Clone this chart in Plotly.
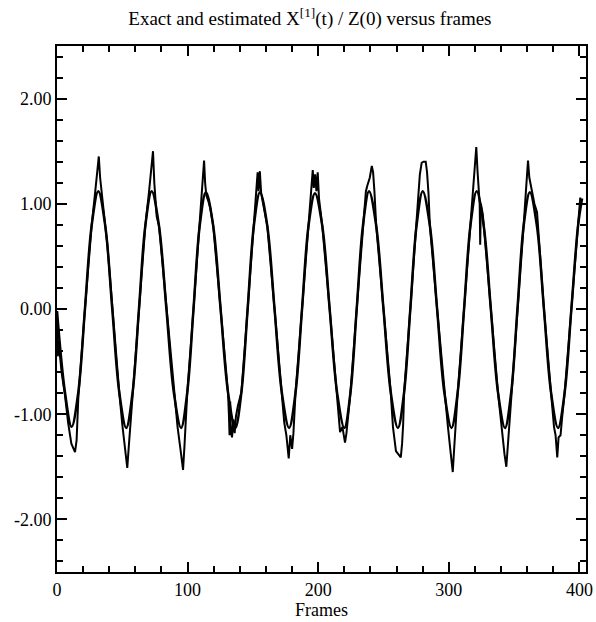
import plotly.graph_objects as go

# Exact X[1](t)/Z(0) (smooth curve)
exact_frames = [0, 6.1, 11.2, 16.3, 21.4, 26.5, 31.6, 36.95, 42.3, 47.65, 53.0, 57.9, 62.75, 67.6,
                72.5, 78.1, 83.75, 89.4, 95.0, 99.75, 104.5, 109.25, 114.0, 119.6, 125.25, 130.9,
                136.5, 141.2, 145.95, 150.7, 155.4, 161.0, 166.55, 172.1, 177.7, 182.65, 187.6,
                192.55, 197.5, 203.1, 208.75, 214.4, 220.0, 224.7, 229.45, 234.2, 238.9, 244.4,
                249.95, 255.5, 261.0, 265.75, 270.5, 275.25, 280.0, 285.5, 291.0, 296.5, 302.0,
                306.8, 311.65, 316.5, 321.3, 326.7, 332.15, 337.6, 343.0, 347.75, 352.5, 357.25,
                362.0, 367.4, 372.8, 378.2, 383.6, 388.7, 393.8, 398.9, 402.0]
exact_values = [-0.02, -0.79, -1.12, -0.79, 0.0, 0.79, 1.12, 0.79, 0.0, -0.79, -1.13, -0.79, 0.0, 0.79,
                1.12, 0.79, 0.0, -0.79, -1.13, -0.79, 0.0, 0.79, 1.11, 0.79, 0.0, -0.79,
                -1.13, -0.79, 0.0, 0.79, 1.11, 0.79, 0.0, -0.79, -1.13, -0.79, 0.0,
                0.79, 1.10, 0.79, 0.0, -0.79, -1.13, -0.79, 0.0, 0.79, 1.12, 0.79,
                0.0, -0.79, -1.13, -0.79, 0.0, 0.79, 1.12, 0.79, 0.0, -0.79, -1.13,
                -0.79, 0.0, 0.79, 1.12, 0.79, 0.0, -0.79, -1.13, -0.79, 0.0, 0.79,
                1.11, 0.79, 0.0, -0.79, -1.13, -0.79, 0.0, 0.79, 1.05]

# Estimated X[1](t)/Z(0) (noisy curve)
est_frames = [0, 0.6, 1.2, 2.0, 3.5, 6.1, 8.5, 11.0, 13.8, 15.0, 16.3, 21.4, 26.5, 29.3, 30.8, 32.0,
              33.0, 34.3, 36.95, 38.5, 42.3, 47.65, 50.0, 52.5, 53.8, 55.0, 56.2, 57.9, 62.75, 67.6,
              70.5, 72.5, 73.5, 74.5, 75.5, 76.3, 78.1, 83.75, 89.4, 92.3, 95.0, 96.5, 97.6, 98.5,
              99.75, 104.5, 109.25, 110.8, 111.8, 112.6, 113.4, 114.3, 116.0, 117.5, 119.6, 125.25,
              130.9, 131.6, 132.1, 132.6, 133.1, 134.0, 135.0, 136.0, 137.0, 138.5, 141.2, 145.95,
              150.7, 152.5, 153.6, 154.3, 155.3, 156.3, 157.5, 159.0, 161.0, 166.55, 172.1, 174.0,
              175.6, 177.4, 178.6, 180.0, 181.0, 182.65, 187.6, 192.55, 194.3, 195.8, 196.6, 197.6,
              198.6, 199.6, 200.6, 201.8, 203.1, 208.75, 214.4, 216.7, 218.5, 220.5, 221.6, 222.8,
              224.7, 229.45, 234.2, 236.5, 237.5, 239.5, 241.0, 242.0, 243.0, 244.4, 249.95, 255.5,
              257.2, 258.2, 259.5, 263.2, 264.2, 265.0, 265.75, 270.5, 275.25, 276.8, 277.8, 279.2,
              280.5, 282.3, 283.3, 284.4, 285.5, 291.0, 296.5, 299.3, 301.5, 303.0, 304.2, 305.3,
              306.8, 311.65, 316.5, 318.6, 320.0, 321.0, 322.0, 322.8, 323.6, 324.0, 324.5, 326.0,
              326.7, 332.15, 337.6, 340.2, 342.6, 344.0, 345.2, 346.3, 347.75, 352.5, 357.25, 359.0,
              360.6, 361.6, 363.7, 365.5, 367.5, 368.5, 370.0, 372.8, 378.2, 380.5, 381.7, 383.0,
              384.0, 385.5, 386.8, 388.7, 393.8, 398.9, 400.6]
est_values = [-0.02, -0.45, -0.30, -0.42, -0.60, -0.82, -1.08, -1.28, -1.36, -1.25, -0.85, 0.0, 0.79, 1.12, 1.32, 1.45,
              1.25, 1.08, 0.79, 0.62, 0.0, -0.79, -1.10, -1.38, -1.51, -1.30, -1.10, -0.79, 0.0, 0.79,
              1.12, 1.35, 1.50, 1.20, 1.02, 0.88, 0.79, 0.0, -0.79, -1.12, -1.38, -1.53, -1.30, -1.12,
              -0.79, 0.0, 0.79, 1.12, 1.30, 1.41, 1.20, 1.08, 1.02, 0.95, 0.79, 0.0,
              -0.79, -1.00, -1.20, -0.88, -1.15, -1.22, -1.05, -1.18, -1.02, -0.92, -0.79, 0.0,
              0.79, 1.12, 1.30, 1.12, 1.31, 1.10, 1.02, 0.92, 0.79, 0.0, -0.79, -1.08,
              -1.20, -1.42, -1.20, -1.33, -1.18, -0.79, 0.0, 0.79, 1.12, 1.32, 1.15, 1.28,
              1.12, 1.30, 1.05, 0.90, 0.79, 0.0, -0.79, -1.17, -1.12, -1.27, -1.18, -1.02,
              -0.79, 0.0, 0.79, 1.12, 1.17, 1.25, 1.36, 1.30, 1.12, 0.79, 0.0, -0.79,
              -1.12, -1.22, -1.35, -1.41, -1.28, -1.10, -0.79, 0.0, 0.79, 1.08, 1.28, 1.39,
              1.40, 1.40, 1.30, 1.10, 0.79, 0.0, -0.79, -1.12, -1.38, -1.55, -1.30, -1.08,
              -0.79, 0.0, 0.79, 1.12, 1.38, 1.54, 1.30, 1.12, 1.00, 0.61, 1.00, 0.90,
              0.79, 0.0, -0.79, -1.12, -1.38, -1.50, -1.30, -1.08, -0.79, 0.0, 0.79, 1.12,
              1.41, 1.25, 1.11, 1.00, 0.92, 0.74, 0.50, 0.0, -0.79, -1.12, -1.20, -1.41,
              -1.22, -1.20, -1.02, -0.79, 0.0, 0.79, 1.06]

x_tickvals = [0, 100, 200, 300, 400]
x_ticktext = ["0", "100", "200", "300", "400"]
y_tickvals = [-2, -1, 0, 1, 2]
y_ticktext = ["-2.00", "-1.00", "0.00", "1.00", "2.00"]

FONT = "Liberation Serif, Times New Roman, serif"

fig = go.Figure()
fig.add_trace(go.Scatter(x=exact_frames, y=exact_values, mode="lines",
                         line=dict(color="black", width=2.5, shape="spline", smoothing=1.0),
                         name="exact", showlegend=False, hoverinfo="skip"))
fig.add_trace(go.Scatter(x=est_frames, y=est_values, mode="lines",
                         line=dict(color="black", width=2.0),
                         name="estimated", showlegend=False, hoverinfo="skip"))

axis_common = dict(showline=True, linecolor="black", linewidth=2, mirror="allticks",
                   ticks="inside", ticklen=10, tickwidth=2, tickcolor="black",
                   showgrid=False, zeroline=False, automargin=False,
                   tickfont=dict(family=FONT, size=18, color="black"))

fig.update_xaxes(range=[0, 405], tickvals=x_tickvals, ticktext=x_ticktext,
                 minor=dict(ticks="inside", ticklen=6, tickwidth=2, tickcolor="black", dtick=20, tick0=0),
                 title=dict(text="Frames", font=dict(family=FONT, size=18, color="black"), standoff=0),
                 **axis_common)
fig.update_yaxes(range=[-2.5, 2.5], tickvals=y_tickvals, ticktext=y_ticktext,
                 minor=dict(ticks="inside", ticklen=6, tickwidth=2, tickcolor="black", dtick=0.2, tick0=0),
                 **axis_common)

fig.update_layout(
    width=596, height=622,
    margin=dict(l=57, r=10, t=46, b=50, autoexpand=False),
    paper_bgcolor="white", plot_bgcolor="white",
    title=dict(text="Exact and estimated X<sup>[1]</sup>(t) / Z(0) versus frames",
               font=dict(family=FONT, size=19, color="black"),
               x=0.52, xanchor="center", y=0.971, yanchor="middle"),
)

fig.write_html("out.html", config={"displayModeBar": False},
               post_script="document.body.style.margin='0';document.body.style.overflow='hidden';")
